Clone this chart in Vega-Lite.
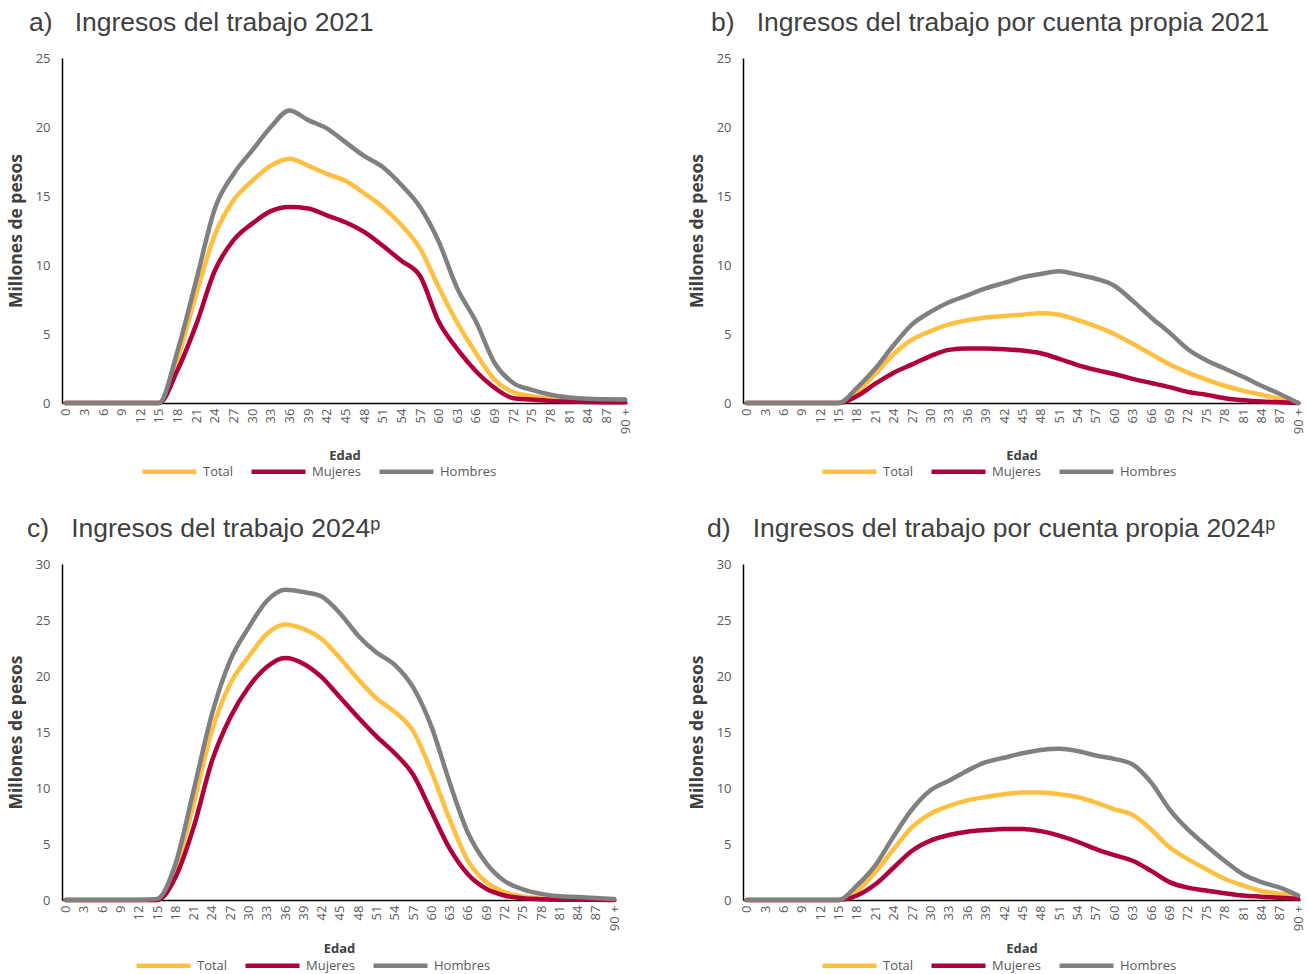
{
  "$schema": "https://vega.github.io/schema/vega-lite/v6.json",
  "padding": {"left": 7, "top": 9, "right": 0, "bottom": 0},
  "background": "white",
  "datasets": {
    "a": [
      {"edad":0,"serie":"Total","valor":0},{"edad":0,"serie":"Mujeres","valor":0},{"edad":0,"serie":"Hombres","valor":0},
      {"edad":3,"serie":"Total","valor":0},{"edad":3,"serie":"Mujeres","valor":0},{"edad":3,"serie":"Hombres","valor":0},
      {"edad":6,"serie":"Total","valor":0},{"edad":6,"serie":"Mujeres","valor":0},{"edad":6,"serie":"Hombres","valor":0},
      {"edad":9,"serie":"Total","valor":0},{"edad":9,"serie":"Mujeres","valor":0},{"edad":9,"serie":"Hombres","valor":0},
      {"edad":12,"serie":"Total","valor":0},{"edad":12,"serie":"Mujeres","valor":0},{"edad":12,"serie":"Hombres","valor":0},
      {"edad":15,"serie":"Total","valor":0},{"edad":15,"serie":"Mujeres","valor":0},{"edad":15,"serie":"Hombres","valor":0},
      {"edad":18,"serie":"Total","valor":3.2},{"edad":18,"serie":"Mujeres","valor":2.4},{"edad":18,"serie":"Hombres","valor":3.8},
      {"edad":21,"serie":"Total","valor":7.9},{"edad":21,"serie":"Mujeres","valor":5.7},{"edad":21,"serie":"Hombres","valor":8.9},
      {"edad":24,"serie":"Total","valor":12.2},{"edad":24,"serie":"Mujeres","valor":9.6},{"edad":24,"serie":"Hombres","valor":14.1},
      {"edad":27,"serie":"Total","valor":14.7},{"edad":27,"serie":"Mujeres","valor":11.8},{"edad":27,"serie":"Hombres","valor":16.6},
      {"edad":30,"serie":"Total","valor":16.1},{"edad":30,"serie":"Mujeres","valor":13.0},{"edad":30,"serie":"Hombres","valor":18.3},
      {"edad":33,"serie":"Total","valor":17.2},{"edad":33,"serie":"Mujeres","valor":13.9},{"edad":33,"serie":"Hombres","valor":20.0},
      {"edad":36,"serie":"Total","valor":17.7},{"edad":36,"serie":"Mujeres","valor":14.2},{"edad":36,"serie":"Hombres","valor":21.2},
      {"edad":39,"serie":"Total","valor":17.2},{"edad":39,"serie":"Mujeres","valor":14.1},{"edad":39,"serie":"Hombres","valor":20.5},
      {"edad":42,"serie":"Total","valor":16.6},{"edad":42,"serie":"Mujeres","valor":13.6},{"edad":42,"serie":"Hombres","valor":19.9},
      {"edad":45,"serie":"Total","valor":16.1},{"edad":45,"serie":"Mujeres","valor":13.1},{"edad":45,"serie":"Hombres","valor":18.9},
      {"edad":48,"serie":"Total","valor":15.2},{"edad":48,"serie":"Mujeres","valor":12.4},{"edad":48,"serie":"Hombres","valor":17.9},
      {"edad":51,"serie":"Total","valor":14.2},{"edad":51,"serie":"Mujeres","valor":11.4},{"edad":51,"serie":"Hombres","valor":17.1},
      {"edad":54,"serie":"Total","valor":12.9},{"edad":54,"serie":"Mujeres","valor":10.3},{"edad":54,"serie":"Hombres","valor":15.8},
      {"edad":57,"serie":"Total","valor":11.2},{"edad":57,"serie":"Mujeres","valor":9.2},{"edad":57,"serie":"Hombres","valor":14.2},
      {"edad":60,"serie":"Total","valor":8.4},{"edad":60,"serie":"Mujeres","valor":5.9},{"edad":60,"serie":"Hombres","valor":11.7},
      {"edad":63,"serie":"Total","valor":5.8},{"edad":63,"serie":"Mujeres","valor":3.9},{"edad":63,"serie":"Hombres","valor":8.3},
      {"edad":66,"serie":"Total","valor":3.6},{"edad":66,"serie":"Mujeres","valor":2.3},{"edad":66,"serie":"Hombres","valor":5.9},
      {"edad":69,"serie":"Total","valor":1.7},{"edad":69,"serie":"Mujeres","valor":1.1},{"edad":69,"serie":"Hombres","valor":2.9},
      {"edad":72,"serie":"Total","valor":0.78},{"edad":72,"serie":"Mujeres","valor":0.35},{"edad":72,"serie":"Hombres","valor":1.45},
      {"edad":75,"serie":"Total","valor":0.5},{"edad":75,"serie":"Mujeres","valor":0.25},{"edad":75,"serie":"Hombres","valor":0.95},
      {"edad":78,"serie":"Total","valor":0.3},{"edad":78,"serie":"Mujeres","valor":0.15},{"edad":78,"serie":"Hombres","valor":0.6},
      {"edad":81,"serie":"Total","valor":0.18},{"edad":81,"serie":"Mujeres","valor":0.1},{"edad":81,"serie":"Hombres","valor":0.4},
      {"edad":84,"serie":"Total","valor":0.12},{"edad":84,"serie":"Mujeres","valor":0.07},{"edad":84,"serie":"Hombres","valor":0.3},
      {"edad":87,"serie":"Total","valor":0.1},{"edad":87,"serie":"Mujeres","valor":0.06},{"edad":87,"serie":"Hombres","valor":0.27},
      {"edad":90,"serie":"Total","valor":0.08},{"edad":90,"serie":"Mujeres","valor":0.05},{"edad":90,"serie":"Hombres","valor":0.25}
    ],
    "b": [
      {"edad":0,"serie":"Total","valor":0},{"edad":0,"serie":"Mujeres","valor":0},{"edad":0,"serie":"Hombres","valor":0},
      {"edad":3,"serie":"Total","valor":0},{"edad":3,"serie":"Mujeres","valor":0},{"edad":3,"serie":"Hombres","valor":0},
      {"edad":6,"serie":"Total","valor":0},{"edad":6,"serie":"Mujeres","valor":0},{"edad":6,"serie":"Hombres","valor":0},
      {"edad":9,"serie":"Total","valor":0},{"edad":9,"serie":"Mujeres","valor":0},{"edad":9,"serie":"Hombres","valor":0},
      {"edad":12,"serie":"Total","valor":0},{"edad":12,"serie":"Mujeres","valor":0},{"edad":12,"serie":"Hombres","valor":0},
      {"edad":15,"serie":"Total","valor":0},{"edad":15,"serie":"Mujeres","valor":0},{"edad":15,"serie":"Hombres","valor":0},
      {"edad":18,"serie":"Total","valor":0.8},{"edad":18,"serie":"Mujeres","valor":0.5},{"edad":18,"serie":"Hombres","valor":1.1},
      {"edad":21,"serie":"Total","valor":2.1},{"edad":21,"serie":"Mujeres","valor":1.4},{"edad":21,"serie":"Hombres","valor":2.5},
      {"edad":24,"serie":"Total","valor":3.55},{"edad":24,"serie":"Mujeres","valor":2.2},{"edad":24,"serie":"Hombres","valor":4.2},
      {"edad":27,"serie":"Total","valor":4.6},{"edad":27,"serie":"Mujeres","valor":2.8},{"edad":27,"serie":"Hombres","valor":5.7},
      {"edad":30,"serie":"Total","valor":5.2},{"edad":30,"serie":"Mujeres","valor":3.4},{"edad":30,"serie":"Hombres","valor":6.6},
      {"edad":33,"serie":"Total","valor":5.7},{"edad":33,"serie":"Mujeres","valor":3.85},{"edad":33,"serie":"Hombres","valor":7.3},
      {"edad":36,"serie":"Total","valor":6.0},{"edad":36,"serie":"Mujeres","valor":3.95},{"edad":36,"serie":"Hombres","valor":7.8},
      {"edad":39,"serie":"Total","valor":6.2},{"edad":39,"serie":"Mujeres","valor":3.95},{"edad":39,"serie":"Hombres","valor":8.3},
      {"edad":42,"serie":"Total","valor":6.3},{"edad":42,"serie":"Mujeres","valor":3.9},{"edad":42,"serie":"Hombres","valor":8.7},
      {"edad":45,"serie":"Total","valor":6.4},{"edad":45,"serie":"Mujeres","valor":3.8},{"edad":45,"serie":"Hombres","valor":9.1},
      {"edad":48,"serie":"Total","valor":6.5},{"edad":48,"serie":"Mujeres","valor":3.6},{"edad":48,"serie":"Hombres","valor":9.35},
      {"edad":51,"serie":"Total","valor":6.4},{"edad":51,"serie":"Mujeres","valor":3.2},{"edad":51,"serie":"Hombres","valor":9.55},
      {"edad":54,"serie":"Total","valor":6.0},{"edad":54,"serie":"Mujeres","valor":2.75},{"edad":54,"serie":"Hombres","valor":9.3},
      {"edad":57,"serie":"Total","valor":5.55},{"edad":57,"serie":"Mujeres","valor":2.4},{"edad":57,"serie":"Hombres","valor":9.0},
      {"edad":60,"serie":"Total","valor":5.0},{"edad":60,"serie":"Mujeres","valor":2.1},{"edad":60,"serie":"Hombres","valor":8.5},
      {"edad":63,"serie":"Total","valor":4.3},{"edad":63,"serie":"Mujeres","valor":1.75},{"edad":63,"serie":"Hombres","valor":7.4},
      {"edad":66,"serie":"Total","valor":3.55},{"edad":66,"serie":"Mujeres","valor":1.45},{"edad":66,"serie":"Hombres","valor":6.2},
      {"edad":69,"serie":"Total","valor":2.8},{"edad":69,"serie":"Mujeres","valor":1.15},{"edad":69,"serie":"Hombres","valor":5.1},
      {"edad":72,"serie":"Total","valor":2.2},{"edad":72,"serie":"Mujeres","valor":0.8},{"edad":72,"serie":"Hombres","valor":3.9},
      {"edad":75,"serie":"Total","valor":1.7},{"edad":75,"serie":"Mujeres","valor":0.6},{"edad":75,"serie":"Hombres","valor":3.1},
      {"edad":78,"serie":"Total","valor":1.25},{"edad":78,"serie":"Mujeres","valor":0.35},{"edad":78,"serie":"Hombres","valor":2.5},
      {"edad":81,"serie":"Total","valor":0.9},{"edad":81,"serie":"Mujeres","valor":0.2},{"edad":81,"serie":"Hombres","valor":1.9},
      {"edad":84,"serie":"Total","valor":0.6},{"edad":84,"serie":"Mujeres","valor":0.1},{"edad":84,"serie":"Hombres","valor":1.25},
      {"edad":87,"serie":"Total","valor":0.3},{"edad":87,"serie":"Mujeres","valor":0.05},{"edad":87,"serie":"Hombres","valor":0.65},
      {"edad":90,"serie":"Total","valor":0},{"edad":90,"serie":"Mujeres","valor":0},{"edad":90,"serie":"Hombres","valor":0}
    ],
    "c": [
      {"edad":0,"serie":"Total","valor":0},{"edad":0,"serie":"Mujeres","valor":0},{"edad":0,"serie":"Hombres","valor":0},
      {"edad":3,"serie":"Total","valor":0},{"edad":3,"serie":"Mujeres","valor":0},{"edad":3,"serie":"Hombres","valor":0},
      {"edad":6,"serie":"Total","valor":0},{"edad":6,"serie":"Mujeres","valor":0},{"edad":6,"serie":"Hombres","valor":0},
      {"edad":9,"serie":"Total","valor":0},{"edad":9,"serie":"Mujeres","valor":0},{"edad":9,"serie":"Hombres","valor":0},
      {"edad":12,"serie":"Total","valor":0},{"edad":12,"serie":"Mujeres","valor":0},{"edad":12,"serie":"Hombres","valor":0},
      {"edad":15,"serie":"Total","valor":0},{"edad":15,"serie":"Mujeres","valor":0},{"edad":15,"serie":"Hombres","valor":0.1},
      {"edad":18,"serie":"Total","valor":2.6},{"edad":18,"serie":"Mujeres","valor":2.0},{"edad":18,"serie":"Hombres","valor":3.2},
      {"edad":21,"serie":"Total","valor":8.6},{"edad":21,"serie":"Mujeres","valor":6.5},{"edad":21,"serie":"Hombres","valor":9.8},
      {"edad":24,"serie":"Total","valor":15.1},{"edad":24,"serie":"Mujeres","valor":12.4},{"edad":24,"serie":"Hombres","valor":16.6},
      {"edad":27,"serie":"Total","valor":19.3},{"edad":27,"serie":"Mujeres","valor":16.3},{"edad":27,"serie":"Hombres","valor":21.4},
      {"edad":30,"serie":"Total","valor":21.7},{"edad":30,"serie":"Mujeres","valor":19.0},{"edad":30,"serie":"Hombres","valor":24.3},
      {"edad":33,"serie":"Total","valor":23.75},{"edad":33,"serie":"Mujeres","valor":20.8},{"edad":33,"serie":"Hombres","valor":26.7},
      {"edad":36,"serie":"Total","valor":24.6},{"edad":36,"serie":"Mujeres","valor":21.6},{"edad":36,"serie":"Hombres","valor":27.7},
      {"edad":39,"serie":"Total","valor":24.2},{"edad":39,"serie":"Mujeres","valor":21.1},{"edad":39,"serie":"Hombres","valor":27.5},
      {"edad":42,"serie":"Total","valor":23.3},{"edad":42,"serie":"Mujeres","valor":19.9},{"edad":42,"serie":"Hombres","valor":27.1},
      {"edad":45,"serie":"Total","valor":21.6},{"edad":45,"serie":"Mujeres","valor":18.1},{"edad":45,"serie":"Hombres","valor":25.6},
      {"edad":48,"serie":"Total","valor":19.7},{"edad":48,"serie":"Mujeres","valor":16.3},{"edad":48,"serie":"Hombres","valor":23.6},
      {"edad":51,"serie":"Total","valor":18.0},{"edad":51,"serie":"Mujeres","valor":14.6},{"edad":51,"serie":"Hombres","valor":22.1},
      {"edad":54,"serie":"Total","valor":16.8},{"edad":54,"serie":"Mujeres","valor":13.1},{"edad":54,"serie":"Hombres","valor":21.0},
      {"edad":57,"serie":"Total","valor":15.1},{"edad":57,"serie":"Mujeres","valor":11.2},{"edad":57,"serie":"Hombres","valor":19.0},
      {"edad":60,"serie":"Total","valor":11.5},{"edad":60,"serie":"Mujeres","valor":7.9},{"edad":60,"serie":"Hombres","valor":15.5},
      {"edad":63,"serie":"Total","valor":7.2},{"edad":63,"serie":"Mujeres","valor":4.6},{"edad":63,"serie":"Hombres","valor":10.5},
      {"edad":66,"serie":"Total","valor":3.5},{"edad":66,"serie":"Mujeres","valor":2.3},{"edad":66,"serie":"Hombres","valor":6.0},
      {"edad":69,"serie":"Total","valor":1.6},{"edad":69,"serie":"Mujeres","valor":1.0},{"edad":69,"serie":"Hombres","valor":3.3},
      {"edad":72,"serie":"Total","valor":0.7},{"edad":72,"serie":"Mujeres","valor":0.4},{"edad":72,"serie":"Hombres","valor":1.7},
      {"edad":75,"serie":"Total","valor":0.32},{"edad":75,"serie":"Mujeres","valor":0.15},{"edad":75,"serie":"Hombres","valor":0.95},
      {"edad":78,"serie":"Total","valor":0.13},{"edad":78,"serie":"Mujeres","valor":0.07},{"edad":78,"serie":"Hombres","valor":0.55},
      {"edad":81,"serie":"Total","valor":0.05},{"edad":81,"serie":"Mujeres","valor":0.03},{"edad":81,"serie":"Hombres","valor":0.33},
      {"edad":84,"serie":"Total","valor":0.03},{"edad":84,"serie":"Mujeres","valor":0.02},{"edad":84,"serie":"Hombres","valor":0.27},
      {"edad":87,"serie":"Total","valor":0.02},{"edad":87,"serie":"Mujeres","valor":0.02},{"edad":87,"serie":"Hombres","valor":0.18},
      {"edad":90,"serie":"Total","valor":0.01},{"edad":90,"serie":"Mujeres","valor":0.01},{"edad":90,"serie":"Hombres","valor":0.09}
    ],
    "d": [
      {"edad":0,"serie":"Total","valor":0},{"edad":0,"serie":"Mujeres","valor":0},{"edad":0,"serie":"Hombres","valor":0},
      {"edad":3,"serie":"Total","valor":0},{"edad":3,"serie":"Mujeres","valor":0},{"edad":3,"serie":"Hombres","valor":0},
      {"edad":6,"serie":"Total","valor":0},{"edad":6,"serie":"Mujeres","valor":0},{"edad":6,"serie":"Hombres","valor":0},
      {"edad":9,"serie":"Total","valor":0},{"edad":9,"serie":"Mujeres","valor":0},{"edad":9,"serie":"Hombres","valor":0},
      {"edad":12,"serie":"Total","valor":0},{"edad":12,"serie":"Mujeres","valor":0},{"edad":12,"serie":"Hombres","valor":0},
      {"edad":15,"serie":"Total","valor":0},{"edad":15,"serie":"Mujeres","valor":0},{"edad":15,"serie":"Hombres","valor":0},
      {"edad":18,"serie":"Total","valor":0.8},{"edad":18,"serie":"Mujeres","valor":0.4},{"edad":18,"serie":"Hombres","valor":1.3},
      {"edad":21,"serie":"Total","valor":2.5},{"edad":21,"serie":"Mujeres","valor":1.4},{"edad":21,"serie":"Hombres","valor":3.1},
      {"edad":24,"serie":"Total","valor":4.55},{"edad":24,"serie":"Mujeres","valor":2.9},{"edad":24,"serie":"Hombres","valor":5.7},
      {"edad":27,"serie":"Total","valor":6.5},{"edad":27,"serie":"Mujeres","valor":4.4},{"edad":27,"serie":"Hombres","valor":8.1},
      {"edad":30,"serie":"Total","valor":7.7},{"edad":30,"serie":"Mujeres","valor":5.3},{"edad":30,"serie":"Hombres","valor":9.8},
      {"edad":33,"serie":"Total","valor":8.4},{"edad":33,"serie":"Mujeres","valor":5.8},{"edad":33,"serie":"Hombres","valor":10.65},
      {"edad":36,"serie":"Total","valor":8.9},{"edad":36,"serie":"Mujeres","valor":6.1},{"edad":36,"serie":"Hombres","valor":11.55},
      {"edad":39,"serie":"Total","valor":9.2},{"edad":39,"serie":"Mujeres","valor":6.25},{"edad":39,"serie":"Hombres","valor":12.3},
      {"edad":42,"serie":"Total","valor":9.45},{"edad":42,"serie":"Mujeres","valor":6.35},{"edad":42,"serie":"Hombres","valor":12.7},
      {"edad":45,"serie":"Total","valor":9.6},{"edad":45,"serie":"Mujeres","valor":6.35},{"edad":45,"serie":"Hombres","valor":13.1},
      {"edad":48,"serie":"Total","valor":9.6},{"edad":48,"serie":"Mujeres","valor":6.15},{"edad":48,"serie":"Hombres","valor":13.4},
      {"edad":51,"serie":"Total","valor":9.45},{"edad":51,"serie":"Mujeres","valor":5.75},{"edad":51,"serie":"Hombres","valor":13.5},
      {"edad":54,"serie":"Total","valor":9.2},{"edad":54,"serie":"Mujeres","valor":5.2},{"edad":54,"serie":"Hombres","valor":13.3},
      {"edad":57,"serie":"Total","valor":8.7},{"edad":57,"serie":"Mujeres","valor":4.55},{"edad":57,"serie":"Hombres","valor":12.9},
      {"edad":60,"serie":"Total","valor":8.1},{"edad":60,"serie":"Mujeres","valor":4.0},{"edad":60,"serie":"Hombres","valor":12.6},
      {"edad":63,"serie":"Total","valor":7.6},{"edad":63,"serie":"Mujeres","valor":3.5},{"edad":63,"serie":"Hombres","valor":12.1},
      {"edad":66,"serie":"Total","valor":6.3},{"edad":66,"serie":"Mujeres","valor":2.6},{"edad":66,"serie":"Hombres","valor":10.5},
      {"edad":69,"serie":"Total","valor":4.7},{"edad":69,"serie":"Mujeres","valor":1.6},{"edad":69,"serie":"Hombres","valor":8.1},
      {"edad":72,"serie":"Total","valor":3.65},{"edad":72,"serie":"Mujeres","valor":1.1},{"edad":72,"serie":"Hombres","valor":6.3},
      {"edad":75,"serie":"Total","valor":2.75},{"edad":75,"serie":"Mujeres","valor":0.85},{"edad":75,"serie":"Hombres","valor":4.85},
      {"edad":78,"serie":"Total","valor":1.9},{"edad":78,"serie":"Mujeres","valor":0.6},{"edad":78,"serie":"Hombres","valor":3.5},
      {"edad":81,"serie":"Total","valor":1.3},{"edad":81,"serie":"Mujeres","valor":0.4},{"edad":81,"serie":"Hombres","valor":2.3},
      {"edad":84,"serie":"Total","valor":0.8},{"edad":84,"serie":"Mujeres","valor":0.3},{"edad":84,"serie":"Hombres","valor":1.6},
      {"edad":87,"serie":"Total","valor":0.55},{"edad":87,"serie":"Mujeres","valor":0.2},{"edad":87,"serie":"Hombres","valor":1.1},
      {"edad":90,"serie":"Total","valor":0.25},{"edad":90,"serie":"Mujeres","valor":0.1},{"edad":90,"serie":"Hombres","valor":0.4}
    ]
  },
  "resolve": {"legend": {"color": "independent"}},
  "spacing": 34,
  "vconcat": [
    {
      "resolve": {"legend": {"color": "independent"}},
      "spacing": 55,
      "hconcat": [
        {
          "width": 565, "height": 345,
          "data": {"name": "a"},
          "title": {"text": "a)\u00a0\u00a0\u00a0Ingresos del trabajo 2021", "dx": -33},
          "mark": {"type": "line", "interpolate": "monotone", "strokeWidth": 4.5, "strokeJoin": "round", "strokeCap": "round"},
          "encoding": {
            "x": {"field": "edad", "type": "quantitative", "scale": {"domain": [-0.6, 90.3], "nice": false, "zero": false},
                  "axis": {"title": "Edad", "values": [0,3,6,9,12,15,18,21,24,27,30,33,36,39,42,45,48,51,54,57,60,63,66,69,72,75,78,81,84,87,90], "labelExpr": "datum.value == 90 ? '90\u00a0+' : datum.label"}},
            "y": {"field": "valor", "type": "quantitative", "scale": {"domain": [0, 25], "nice": false}, "axis": {"title": "Millones de pesos", "values": [0,5,10,15,20,25]}},
            "color": {"field": "serie", "type": "nominal", "scale": {"domain": ["Total", "Mujeres", "Hombres"], "range": ["#FFBF40", "#B0003A", "#808080"]}, "legend": {"title": null, "orient": "none", "legendX": 78, "legendY": 384}}
          }
        },
        {
          "width": 557, "height": 345,
          "data": {"name": "b"},
          "title": {"text": "b)\u00a0\u00a0\u00a0Ingresos del trabajo por cuenta propia 2021", "dx": -32},
          "mark": {"type": "line", "interpolate": "monotone", "strokeWidth": 4.5, "strokeJoin": "round", "strokeCap": "round"},
          "encoding": {
            "x": {"field": "edad", "type": "quantitative", "scale": {"domain": [-0.6, 90.3], "nice": false, "zero": false},
                  "axis": {"title": "Edad", "values": [0,3,6,9,12,15,18,21,24,27,30,33,36,39,42,45,48,51,54,57,60,63,66,69,72,75,78,81,84,87,90], "labelExpr": "datum.value == 90 ? '90\u00a0+' : datum.label"}},
            "y": {"field": "valor", "type": "quantitative", "scale": {"domain": [0, 25], "nice": false}, "axis": {"title": "Millones de pesos", "values": [0,5,10,15,20,25]}},
            "color": {"field": "serie", "type": "nominal", "scale": {"domain": ["Total", "Mujeres", "Hombres"], "range": ["#FFBF40", "#B0003A", "#808080"]}, "legend": {"title": null, "orient": "none", "legendX": 77, "legendY": 384}}
          }
        }
      ]
    },
    {
      "resolve": {"legend": {"color": "independent"}},
      "spacing": 66,
      "hconcat": [
        {
          "width": 554, "height": 336,
          "data": {"name": "c"},
          "title": {"text": "c)\u00a0\u00a0\u00a0Ingresos del trabajo 2024ᵖ", "dx": -35},
          "mark": {"type": "line", "interpolate": "monotone", "strokeWidth": 4.5, "strokeJoin": "round", "strokeCap": "round"},
          "encoding": {
            "x": {"field": "edad", "type": "quantitative", "scale": {"domain": [-0.6, 90.3], "nice": false, "zero": false},
                  "axis": {"title": "Edad", "titlePadding": 12, "values": [0,3,6,9,12,15,18,21,24,27,30,33,36,39,42,45,48,51,54,57,60,63,66,69,72,75,78,81,84,87,90], "labelExpr": "datum.value == 90 ? '90\u00a0+' : datum.label"}},
            "y": {"field": "valor", "type": "quantitative", "scale": {"domain": [0, 30], "nice": false}, "axis": {"title": "Millones de pesos", "values": [0,5,10,15,20,25,30]}},
            "color": {"field": "serie", "type": "nominal", "scale": {"domain": ["Total", "Mujeres", "Hombres"], "range": ["#FFBF40", "#B0003A", "#808080"]}, "legend": {"title": null, "orient": "none", "legendX": 72, "legendY": 372}}
          }
        },
        {
          "width": 557, "height": 336,
          "data": {"name": "d"},
          "title": {"text": "d)\u00a0\u00a0\u00a0Ingresos del trabajo por cuenta propia 2024ᵖ", "dx": -36},
          "mark": {"type": "line", "interpolate": "monotone", "strokeWidth": 4.5, "strokeJoin": "round", "strokeCap": "round"},
          "encoding": {
            "x": {"field": "edad", "type": "quantitative", "scale": {"domain": [-0.6, 90.3], "nice": false, "zero": false},
                  "axis": {"title": "Edad", "titlePadding": 12, "values": [0,3,6,9,12,15,18,21,24,27,30,33,36,39,42,45,48,51,54,57,60,63,66,69,72,75,78,81,84,87,90], "labelExpr": "datum.value == 90 ? '90\u00a0+' : datum.label"}},
            "y": {"field": "valor", "type": "quantitative", "scale": {"domain": [0, 30], "nice": false}, "axis": {"title": "Millones de pesos", "values": [0,5,10,15,20,25,30]}},
            "color": {"field": "serie", "type": "nominal", "scale": {"domain": ["Total", "Mujeres", "Hombres"], "range": ["#FFBF40", "#B0003A", "#808080"]}, "legend": {"title": null, "orient": "none", "legendX": 77, "legendY": 372}}
          }
        }
      ]
    }
  ],
  "config": {
    "view": {"stroke": null},
    "font": "Open Sans",
    "axis": {"domainColor": "#000000", "domainWidth": 1.5, "ticks": false, "grid": false, "labelColor": "#595959", "labelFont": "Open Sans", "labelFontSize": 13, "titleColor": "#404040", "titleFont": "Open Sans", "titleFontWeight": "bold", "labelOverlap": false, "labelFlush": false},
    "axisY": {"labelPadding": 12, "titleFontSize": 17.5, "titlePadding": 10},
    "axisX": {"labelAngle": -90, "labelPadding": 5, "titleFontSize": 13, "titlePadding": 16},
    "legend": {"direction": "horizontal", "symbolType": "stroke", "symbolSize": 2916, "symbolStrokeWidth": 4.5, "labelFont": "Open Sans", "labelFontSize": 13, "labelColor": "#595959", "labelOffset": 4, "columnPadding": 8},
    "title": {"anchor": "start", "frame": "group", "font": "Liberation Sans", "fontSize": 26.5, "fontWeight": "normal", "color": "#404040", "offset": 16}
  }
}
